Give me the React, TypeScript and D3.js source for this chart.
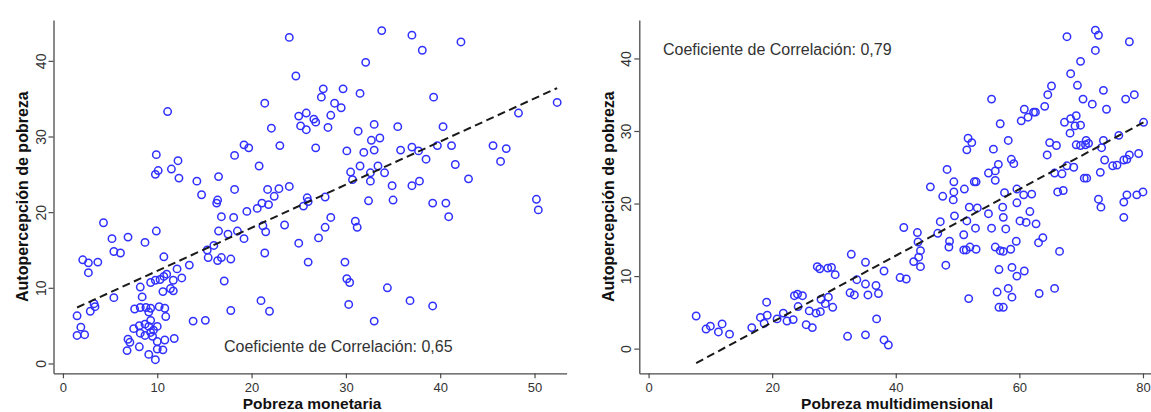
import { useEffect, useRef } from "react";
import * as d3 from "d3";

type Pt = [number, number];

// Panel 1: Pobreza monetaria vs Autopercepción de pobreza
const monetariaPoints: Pt[] = [
  [11.1, 33.3], [9.9, 27.6], [10.1, 25.5], [9.8, 25.0], [12.2, 26.8], [11.5, 25.7], [12.3, 24.5],
  [14.2, 24.1], [16.5, 24.7], [18.2, 27.5], [19.2, 28.9], [19.7, 28.5], [20.8, 26.1], [21.4, 34.4],
  [22.1, 31.1], [23.0, 28.8], [24.0, 43.1], [33.8, 44.0], [37.0, 43.4], [38.1, 41.4], [42.2, 42.5],
  [32.1, 39.8], [24.7, 38.0], [27.6, 36.3], [29.7, 36.3], [27.4, 35.2], [31.5, 35.7], [39.3, 35.2],
  [28.8, 34.4], [29.5, 33.8], [25.8, 33.1], [25.0, 32.7], [28.4, 32.8], [26.6, 32.3], [26.8, 31.9],
  [25.2, 31.4], [25.8, 30.9], [28.1, 31.2], [33.0, 31.6], [35.5, 31.3], [40.3, 31.3], [31.3, 30.7],
  [33.6, 29.8], [32.7, 29.5], [26.8, 28.5], [30.1, 28.1], [31.9, 27.9], [33.0, 28.2], [35.8, 28.2],
  [37.0, 28.6], [37.7, 28.1], [39.7, 28.8], [41.2, 28.8], [45.6, 28.8], [47.0, 28.4], [46.4, 26.7],
  [48.3, 33.1], [52.4, 34.5], [38.5, 27.0], [41.6, 26.3], [31.5, 26.1], [33.4, 26.1], [34.1, 25.2],
  [32.6, 25.2], [30.5, 25.3], [30.7, 24.3], [32.6, 24.1], [43.0, 24.4], [37.0, 23.5], [37.8, 24.1],
  [34.9, 23.5], [24.0, 23.4], [14.7, 22.3], [16.4, 21.6], [16.3, 21.2], [18.2, 23.0], [21.7, 23.0],
  [22.9, 23.1], [22.4, 22.1], [21.1, 21.2], [21.8, 21.0], [20.6, 20.5], [25.9, 21.9], [26.0, 21.4],
  [27.8, 22.0], [25.5, 20.8], [32.4, 21.5], [35.0, 21.6], [39.2, 21.2], [40.6, 21.2], [50.2, 21.7],
  [50.4, 20.3], [23.5, 18.3], [28.4, 19.3], [27.8, 18.0], [27.1, 16.6], [25.0, 15.9], [31.0, 18.8],
  [31.2, 18.0], [40.9, 19.4], [16.8, 19.4], [18.1, 19.3], [19.5, 20.1], [16.5, 17.5], [17.5, 17.1],
  [18.5, 17.5], [19.2, 16.5], [21.2, 18.2], [21.5, 17.4], [4.3, 18.6], [5.2, 16.5], [6.9, 16.7],
  [5.4, 14.8], [6.1, 14.6], [8.7, 16.0], [9.9, 17.5], [15.3, 15.0], [16.0, 15.6], [15.4, 14.0],
  [16.4, 13.6], [16.8, 14.0], [17.8, 13.8], [21.4, 14.6], [26.0, 13.4], [29.9, 13.4], [17.1, 10.9],
  [30.1, 11.2], [30.4, 10.7], [34.4, 10.0], [30.3, 7.8], [36.8, 8.3], [39.2, 7.6], [33.0, 5.6],
  [21.9, 6.9], [21.0, 8.3], [17.8, 7.0], [13.8, 5.6], [15.1, 5.7], [2.1, 13.7], [2.7, 13.3],
  [3.7, 13.4], [2.7, 12.0], [1.5, 6.3], [1.9, 4.8], [1.5, 3.7], [2.3, 3.8], [2.9, 6.9], [3.4, 7.5],
  [3.3, 7.9], [5.4, 8.7], [8.2, 10.1], [8.4, 8.8], [10.7, 14.1], [12.1, 12.5], [13.4, 13.0],
  [12.6, 11.3], [11.7, 11.0], [11.0, 11.8], [10.7, 11.5], [10.3, 11.1], [9.8, 11.0], [9.3, 10.7],
  [10.6, 9.5], [11.4, 9.9], [11.7, 9.6], [7.6, 7.2], [8.2, 7.4], [8.8, 7.4], [9.3, 7.3], [9.1, 6.8],
  [10.2, 7.5], [10.8, 7.3], [10.9, 6.2], [9.3, 5.7], [7.5, 4.6], [8.1, 5.0], [8.7, 5.2], [9.1, 4.9],
  [9.6, 4.4], [10.0, 4.9], [8.2, 4.0], [8.7, 3.7], [9.3, 4.1], [9.5, 3.6], [6.9, 3.2], [7.1, 2.8],
  [6.8, 1.7], [8.1, 2.2], [9.1, 1.2], [9.8, 0.5], [10.0, 2.9], [10.0, 1.9], [10.6, 1.8], [10.8, 3.1],
  [11.8, 3.3],
];

// Panel 2: Pobreza multidimensional vs Autopercepción de pobreza
const multidimPoints: Pt[] = [
  [67.7, 43.0], [72.3, 43.9], [72.8, 43.2], [77.8, 42.3], [72.3, 41.1], [69.9, 39.6], [68.3, 37.9],
  [65.2, 36.2], [64.6, 35.0], [69.4, 36.3], [73.6, 35.6], [77.2, 34.4], [78.6, 35.0], [70.3, 34.4],
  [71.8, 33.7], [74.1, 33.0], [55.5, 34.4], [60.8, 33.0], [62.3, 32.6], [61.4, 31.9], [62.6, 32.6],
  [60.3, 31.4], [64.1, 33.4], [56.9, 31.0], [67.3, 31.2], [68.3, 31.7], [69.2, 32.1], [69.9, 30.8],
  [69.0, 30.7], [68.2, 29.7], [80.1, 31.2], [76.1, 29.4], [51.7, 29.0], [52.3, 28.4], [51.5, 27.4],
  [55.8, 27.5], [58.2, 28.7], [64.9, 28.4], [66.0, 28.0], [64.5, 26.7], [69.2, 28.1], [69.9, 28.0],
  [70.8, 28.7], [70.7, 28.1], [71.2, 28.3], [73.6, 28.7], [73.3, 27.7], [58.7, 26.1], [59.1, 25.5],
  [56.6, 25.4], [56.1, 24.5], [55.0, 24.2], [56.1, 23.2], [48.3, 24.7], [49.4, 23.0], [51.1, 22.0],
  [52.7, 23.0], [53.0, 23.0], [45.6, 22.3], [47.6, 21.0], [49.4, 21.6], [49.3, 20.5], [57.6, 21.5],
  [59.6, 22.0], [60.7, 21.2], [62.0, 21.3], [59.6, 20.1], [57.3, 19.5], [66.2, 21.6], [67.1, 21.8],
  [65.7, 24.2], [66.9, 24.1], [67.7, 25.2], [68.8, 25.0], [70.5, 23.5], [70.9, 23.5], [73.1, 24.3],
  [73.8, 26.0], [75.1, 25.2], [75.8, 25.3], [76.9, 26.0], [77.8, 26.7], [77.4, 26.1], [79.3, 26.9],
  [72.8, 20.6], [76.9, 20.2], [77.4, 21.2], [79.0, 21.2], [80.0, 21.6], [73.2, 19.5], [76.9, 18.1],
  [51.9, 19.5], [53.2, 19.4], [61.7, 18.9], [55.0, 18.6], [57.4, 18.1], [60.1, 17.6], [61.1, 17.4],
  [62.7, 17.2], [47.2, 17.5], [49.5, 18.3], [51.5, 17.6], [52.9, 16.6], [55.5, 16.6], [57.8, 16.5],
  [41.3, 16.7], [43.5, 16.0], [46.8, 15.9], [43.6, 14.7], [44.0, 13.5], [42.9, 12.0], [43.7, 12.6],
  [44.0, 11.3], [35.1, 11.9], [38.1, 10.7], [48.7, 14.8], [48.6, 14.0], [51.0, 15.7], [52.0, 14.0],
  [51.0, 13.6], [51.4, 13.6], [53.0, 13.7], [48.1, 11.5], [56.1, 14.0], [56.9, 13.5], [57.4, 13.4],
  [58.6, 13.7], [59.5, 14.8], [63.1, 14.6], [63.8, 15.3], [66.5, 13.4], [56.7, 10.9], [58.8, 11.2],
  [59.6, 10.0], [60.8, 10.7], [40.7, 9.8], [41.7, 9.6], [35.1, 8.9], [36.8, 8.7], [35.5, 7.4],
  [37.2, 7.6], [36.9, 4.1], [35.1, 1.9], [38.1, 1.2], [38.8, 0.5], [51.8, 6.9], [56.4, 7.8],
  [58.2, 8.3], [58.8, 7.1], [56.7, 5.7], [57.4, 5.7], [63.2, 7.6], [65.7, 8.3], [7.7, 4.5],
  [9.3, 2.7], [10.0, 3.1], [11.3, 2.3], [11.9, 3.4], [13.1, 2.0], [16.7, 2.9], [18.1, 4.3],
  [18.7, 3.5], [19.2, 4.6], [19.1, 6.4], [20.8, 4.1], [21.8, 4.9], [22.4, 3.8], [23.4, 4.0],
  [24.2, 5.8], [23.6, 7.3], [24.1, 7.5], [24.9, 7.3], [25.5, 3.3], [26.5, 2.9], [26.0, 5.2],
  [27.1, 4.9], [27.8, 5.1], [27.9, 6.8], [29.1, 7.1], [28.6, 6.2], [29.8, 5.7], [30.2, 10.2],
  [27.3, 11.3], [27.7, 11.0], [29.0, 11.1], [29.6, 11.2], [32.8, 13.0], [33.7, 9.5], [32.6, 7.7],
  [33.3, 7.4], [32.2, 1.7],
];

// fitted lines (endpoints)
const monetariaFit: Pt[] = [[1.5, 7.4], [52.4, 36.4]];
const multidimFit: Pt[] = [[7.7, -2.0], [80.1, 31.2]];

const monetariaXTicks = [0, 10, 20, 30, 40, 50];
const multidimXTicks = [0, 20, 40, 60, 80];
const yTicks = [0, 10, 20, 30, 40];

const yTitle = "Autopercepción de pobreza";
const monetariaTitle = "Pobreza monetaria";
const multidimTitle = "Pobreza multidimensional";
const monetariaCorr = "Coeficiente de Correlación: 0,65";
const multidimCorr = "Coeficiente de Correlación: 0,79";

const FONT = "'Liberation Sans', Arial, Helvetica, sans-serif";
const MARKER = "#3030ff";
const AXIS = "#4a4a4a";
const LABEL = "#333";

type Panel = {
  points: Pt[];
  fit: Pt[];
  xDomain: [number, number];
  xRange: [number, number];
  yDomain: [number, number];
  xTicks: number[];
  xTitle: string;
  corr: string;
  corrPos: [number, number];
};

const panels: Panel[] = [
  {
    points: monetariaPoints,
    fit: monetariaFit,
    xDomain: [-1, 53.4],
    xRange: [53.5, 566.6],
    yDomain: [-1.3, 45.4],
    xTicks: monetariaXTicks,
    xTitle: monetariaTitle,
    corr: monetariaCorr,
    corrPos: [224, 352],
  },
  {
    points: multidimPoints,
    fit: multidimFit,
    xDomain: [-1.5, 81.3],
    xRange: [639.3, 1151],
    yDomain: [-3.4, 45.3],
    xTicks: multidimXTicks,
    xTitle: multidimTitle,
    corr: multidimCorr,
    corrPos: [663, 55],
  },
];

export default function App() {
  const svgRef = useRef<SVGSVGElement | null>(null);

  useEffect(() => {
    if (!svgRef.current) return;
    const svg = d3.select(svgRef.current);
    svg.selectAll("*").remove();

    svg.append("rect").attr("width", 1151).attr("height", 412).attr("fill", "#fff");

    panels.forEach((p) => {
      const x = d3.scaleLinear().domain(p.xDomain).range(p.xRange);
      const y = d3.scaleLinear().domain(p.yDomain).range([373.3, 20]);
      const g = svg.append("g");

      // y axis with rotated labels (Stata style)
      const yAxis = g
        .append("g")
        .attr("transform", `translate(${p.xRange[0]},0)`)
        .call(d3.axisLeft(y).tickValues(yTicks).tickSize(5).tickSizeOuter(0));
      yAxis
        .selectAll(".tick text")
        .attr("x", 0)
        .attr("y", -8)
        .attr("dy", 0)
        .attr("transform", "rotate(-90)")
        .attr("text-anchor", "middle");

      // x tick labels sit a bit tighter so the bold title fits below them
      const xAxis = g
        .append("g")
        .attr("transform", `translate(0,${y.range()[0]})`)
        .call(
          d3.axisBottom(x).tickValues(p.xTicks).tickSize(5).tickSizeOuter(0).tickPadding(4.5)
        );

      [yAxis, xAxis].forEach((a) => {
        a.select(".domain").attr("stroke", AXIS).attr("stroke-width", 1.3);
        a.selectAll(".tick line").attr("stroke", AXIS).attr("stroke-width", 1.2);
        a.selectAll(".tick text")
          .style("font-family", FONT)
          .style("font-size", "14px")
          .attr("fill", LABEL);
      });
      xAxis.selectAll(".tick text").style("font-size", "13px");

      // axis titles
      g.append("text")
        .attr("transform", `translate(${p.xRange[0] - 25.5},${(20 + 373.3) / 2}) rotate(-90)`)
        .attr("text-anchor", "middle")
        .style("font-family", FONT)
        .style("font-size", "16px")
        .style("font-weight", "bold")
        .attr("fill", "#111")
        .text(yTitle);

      g.append("text")
        .attr("x", (p.xRange[0] + p.xRange[1]) / 2 + 2)
        .attr("y", 408.6)
        .attr("text-anchor", "middle")
        .style("font-family", FONT)
        .style("font-size", "15.5px")
        .style("font-weight", "bold")
        .attr("fill", "#111")
        .text(p.xTitle);

      // markers
      g.append("g")
        .selectAll("circle")
        .data(p.points)
        .join("circle")
        .attr("cx", (d) => x(d[0]))
        .attr("cy", (d) => y(d[1]))
        .attr("r", 3.7)
        .attr("fill", "none")
        .attr("stroke", MARKER)
        .attr("stroke-width", 1.5);

      // fitted line
      const line = d3
        .line<Pt>()
        .x((d) => x(d[0]))
        .y((d) => y(d[1]));
      g.append("path")
        .attr("d", line(p.fit))
        .attr("fill", "none")
        .attr("stroke", "#1a1a1a")
        .attr("stroke-width", 2)
        .attr("stroke-dasharray", "8,4.5");

      // correlation note
      g.append("text")
        .attr("x", p.corrPos[0])
        .attr("y", p.corrPos[1])
        .style("font-family", FONT)
        .style("font-size", "16px")
        .attr("fill", LABEL)
        .text(p.corr);
    });
  }, []);

  return (
    <div style={{ position: "absolute", left: 0, top: 0, background: "#fff" }}>
      <svg ref={svgRef} width={1151} height={412} style={{ display: "block" }} />
    </div>
  );
}
